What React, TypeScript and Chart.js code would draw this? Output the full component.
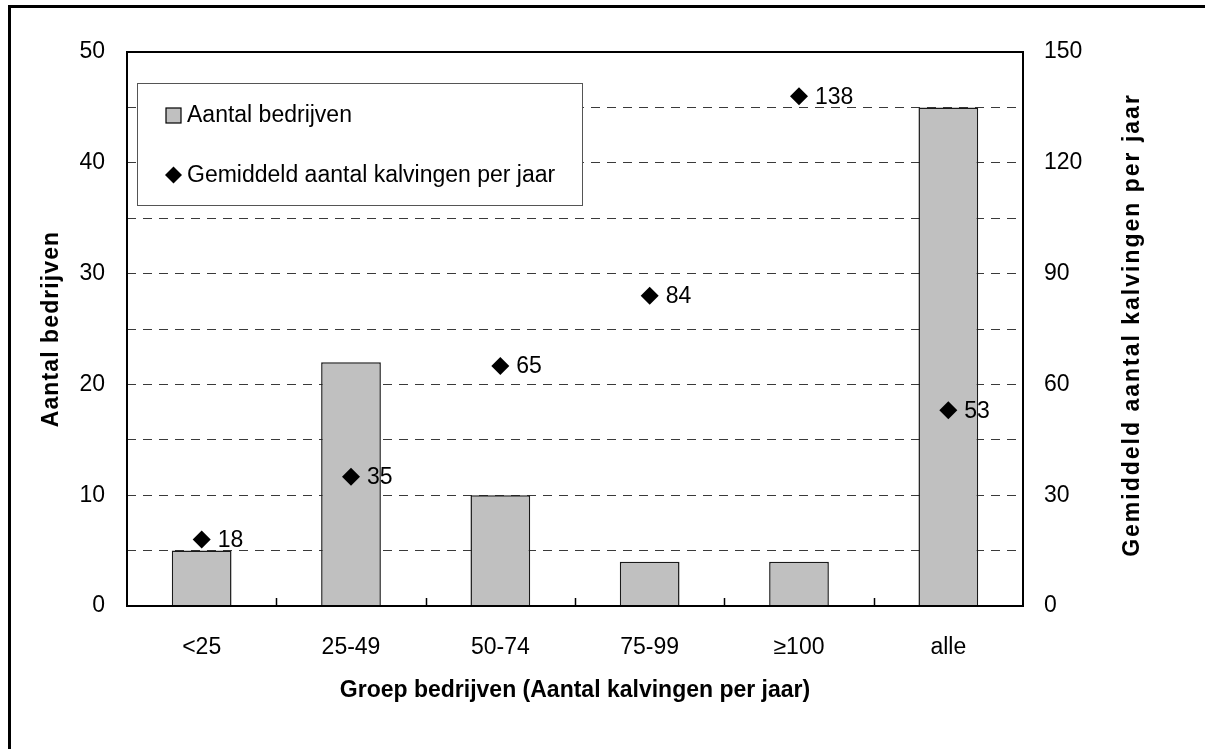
import { useEffect, useRef } from "react";
import { Chart, registerables } from "chart.js";

Chart.register(...registerables);

const categories = ["<25", "25-49", "50-74", "75-99", "≥100", "alle"];
const aantalBedrijven = [5, 22, 10, 4, 4, 45];
const gemiddeldKalvingen = [18, 35, 65, 84, 138, 53];
const leftTickStep = 5;
const leftLabelStep = 10;
const rightTickStep = 30;

const seriesNames = ["Aantal bedrijven", "Gemiddeld aantal kalvingen per jaar"];
const xTitle = "Groep bedrijven (Aantal kalvingen per jaar)";
const yTitle = "Aantal bedrijven";
const y1Title = "Gemiddeld aantal kalvingen per jaar";

const FONT = '"Liberation Sans", Arial, sans-serif';

const decorPlugin = {
  id: "decor",
  afterDatasetsDraw(chart: any) {
    const ctx = chart.ctx as CanvasRenderingContext2D;
    const area = chart.chartArea;
    const xs = chart.scales.x;
    ctx.save();

    // inner tick marks on x axis between categories
    ctx.strokeStyle = "#000";
    ctx.lineWidth = 1.5;
    for (let i = 1; i < categories.length; i++) {
      const px = Math.round(xs.getPixelForValue(i - 0.5)) + 0.5;
      ctx.beginPath();
      ctx.moveTo(px, area.bottom);
      ctx.lineTo(px, area.bottom - 8);
      ctx.stroke();
    }

    // plot border
    ctx.lineWidth = 2;
    ctx.strokeStyle = "#000";
    ctx.strokeRect(area.left, area.top, area.right - area.left, area.bottom - area.top);

    // point value labels
    ctx.fillStyle = "#000";
    ctx.font = `23px ${FONT}`;
    ctx.textAlign = "left";
    ctx.textBaseline = "middle";
    const meta = chart.getDatasetMeta(1);
    meta.data.forEach((pt: any, i: number) => {
      ctx.fillText(String(gemiddeldKalvingen[i]), pt.x + 16, pt.y + 1);
    });

    // legend box
    const lx = 137, ly = 83, lw = 445, lh = 122;
    ctx.fillStyle = "#fff";
    ctx.fillRect(lx, ly, lw, lh);
    ctx.strokeStyle = "#555";
    ctx.lineWidth = 1;
    ctx.strokeRect(lx + 0.5, ly + 0.5, lw, lh);

    // legend item 1: square
    ctx.fillStyle = "#C0C0C0";
    ctx.fillRect(166, 108, 15, 15);
    ctx.strokeStyle = "#000";
    ctx.lineWidth = 1.2;
    ctx.strokeRect(166, 108, 15, 15);
    ctx.fillStyle = "#000";
    ctx.font = `23px ${FONT}`;
    ctx.textAlign = "left";
    ctx.textBaseline = "middle";
    ctx.fillText(seriesNames[0], 187, 116);

    // legend item 2: diamond
    const dx = 173.5, dy = 175, r = 8.5;
    ctx.beginPath();
    ctx.moveTo(dx, dy - r);
    ctx.lineTo(dx + r, dy);
    ctx.lineTo(dx, dy + r);
    ctx.lineTo(dx - r, dy);
    ctx.closePath();
    ctx.fill();
    ctx.fillText(seriesNames[1], 187, 176);

    ctx.restore();
  },
  afterDraw(chart: any) {
    const ctx = chart.ctx as CanvasRenderingContext2D;
    const area = chart.chartArea;
    ctx.save();
    // outer frame (left and top visible)
    ctx.fillStyle = "#000";
    ctx.fillRect(8, 5, 3, chart.height);
    ctx.fillRect(8, 5, chart.width, 3);

    // titles
    ctx.font = `bold 23px ${FONT}`;
    ctx.textAlign = "center";
    ctx.textBaseline = "middle";
    const cy = (area.top + area.bottom) / 2;
    ctx.fillText(xTitle, (area.left + area.right) / 2, 691);

    const c: any = ctx;
    ctx.save();
    ctx.translate(52, cy);
    ctx.rotate(-Math.PI / 2);
    c.letterSpacing = "1.1px";
    ctx.fillText(yTitle, 0, 0);
    ctx.restore();

    ctx.save();
    ctx.translate(1133, cy - 4);
    ctx.rotate(-Math.PI / 2);
    c.letterSpacing = "2px";
    ctx.fillText(y1Title, 0, 0);
    ctx.restore();

    ctx.restore();
  },
};

export default function App() {
  const ref = useRef<HTMLCanvasElement | null>(null);

  useEffect(() => {
    if (!ref.current) return;
    const chart = new Chart(ref.current, {
      data: {
        labels: categories,
        datasets: [
          {
            type: "bar",
            label: seriesNames[0],
            data: aantalBedrijven,
            yAxisID: "y",
            backgroundColor: "#C0C0C0",
            borderColor: "#1a1a1a",
            borderWidth: 1.5,
            barPercentage: 0.4,
            categoryPercentage: 1,
            order: 2,
          } as any,
          {
            type: "line",
            label: seriesNames[1],
            data: gemiddeldKalvingen,
            yAxisID: "y1",
            showLine: false,
            pointStyle: "rectRot",
            pointRadius: 9,
            pointHoverRadius: 9,
            pointBackgroundColor: "#000",
            pointBorderColor: "#000",
            pointBorderWidth: 0,
            backgroundColor: "#000",
            borderColor: "#000",
            order: 1,
          } as any,
        ],
      },
      options: {
        responsive: false,
        animation: false,
        events: [],
        layout: { padding: { left: 0, right: 0, top: 52, bottom: 0 } },
        plugins: {
          legend: { display: false },
          tooltip: { enabled: false },
        },
        scales: {
          x: {
            offset: true,
            grid: { display: false, drawTicks: false },
            border: { display: false },
            ticks: {
              color: "#000",
              font: { family: FONT, size: 23 },
              padding: 28,
              maxRotation: 0,
            },
            afterFit: (s: any) => {
              s.height = 143;
            },
          },
          y: {
            position: "left",
            min: 0,
            max: 50,
            ticks: {
              stepSize: leftTickStep,
              color: "#000",
              font: { family: FONT, size: 23 },
              padding: 22,
              callback: (v: any) => (Number(v) % leftLabelStep === 0 ? String(v) : ""),
            },
            grid: { color: "#3a3a3a", lineWidth: 1, drawTicks: false },
            border: { display: false, dash: [9, 7] },
            afterFit: (s: any) => {
              s.width = 127;
            },
          },
          y1: {
            position: "right",
            min: 0,
            max: 150,
            ticks: {
              stepSize: rightTickStep,
              color: "#000",
              font: { family: FONT, size: 23 },
              padding: 21,
            },
            grid: { drawOnChartArea: false, drawTicks: false },
            border: { display: false },
            afterFit: (s: any) => {
              s.width = 182;
            },
          },
        },
      } as any,
      plugins: [decorPlugin],
    });
    return () => chart.destroy();
  }, []);

  return (
    <div style={{ position: "absolute", left: 0, top: 0, width: 1205, height: 749, background: "#fff" }}>
      <canvas ref={ref} width={1205} height={749} style={{ display: "block" }} />
    </div>
  );
}
